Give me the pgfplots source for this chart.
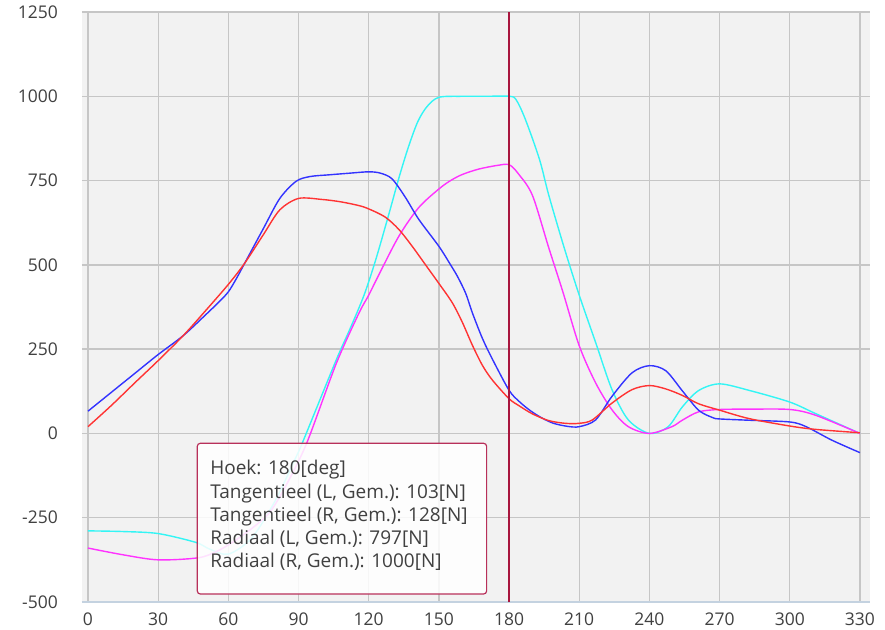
\documentclass[border=0pt]{standalone}
\usepackage{pgfplots}
\pgfplotsset{compat=1.18}
\usepackage{fontspec}
\setmainfont{Open Sans}
\definecolor{bgc}{HTML}{F2F2F2}
\definecolor{gridc}{HTML}{C6C6C6}
\definecolor{basec}{HTML}{C4D2E0}
\definecolor{markc}{HTML}{A8163E}
\definecolor{tipc}{HTML}{B8305A}
\definecolor{lred}{HTML}{FF3333}
\definecolor{lblue}{HTML}{3333FF}
\definecolor{lcyan}{HTML}{33F5F5}
\definecolor{lmag}{HTML}{FF33FF}
\definecolor{txtc}{HTML}{404040}
\pgfplotstableread{
x y
0 20
10 83
20 150
30 216
40.7 290
50 362
60 442
67 505
75 590
82 663
90 697
100 694
108 687
115.7 676
120 666
127 642
132.9 605
138.6 555
144.3 500
150 445
155.7 388
160 330
164.3 262
168.6 202
172.9 158
180 103
184.3 82
190 58
197 38
204 30
210 30
215.6 40
224 90
232.6 130
240 142
247 132
254 113
261 88
270 69
282.6 44
300 22
311 12
330 2
}\tanL
\pgfplotstableread{
x y
0 66
10 122
20 178
30 234
40.7 290
50 350
56 390
60 420
63.5 460
67 505
75 608
82 697
89 748
95 762
103 767
112 772
120 776
125 772
130 755
135.7 700
141.4 635
150 555
155 500
158 465
161.5 415
164.3 358
168.6 282
172.9 220
180 128
184.3 95
189 68
194 46
199 30
205 21
210 20
217 40
224 110
232.6 180
240 201
247 186
254 127
261 69
267 47
270 43
283 39
300 34
307 20
318 -20
330 -57
}\tanR
\pgfplotstableread{
x y
0 -340
15 -360
30 -375
47 -369
55 -350
62 -322
70 -282
77.7 -234
85 -150
93.6 -27
106 205
115.7 355
120 410
124.3 470
132.9 585
141.4 670
150 725
155 750
160 768
167 784
175 795
180 797
184 770
190 706
197 550
203 420
210 260
217 150
224 70
231 20
240 0
249.6 20
254 39
261 64
270 71
283 72
300 71
311 54
330 0
}\radL
\pgfplotstableread{
x y
0 -289
15 -291
30 -297
46 -323
52 -343
60 -358
70 -310
80 -200
88.4 -78
92 -22
106 216
112 310
118 410
123 515
128.6 650
133 760
137 850
141 925
145 970
150 997
160 1000
170 1000
180 1000
183 990
187 931
193 813
197 706
203.6 550
210 410
217 270
224 130
231 40
240 0
248 20
254 78
261 127
270 147
283 127
300 93
311 59
330 0
}\radR
\begin{document}
\begin{tikzpicture}[x=1pt,y=1pt]
\useasboundingbox (-82,-27) rectangle (803,602);
\begin{axis}[
  at={(0,0)}, anchor=south west,
  scale only axis, width=788pt, height=590pt,
  xmin=-2.56, xmax=334.3, ymin=-500, ymax=1250,
  xtick={0,30,...,330}, ytick={-500,-250,...,1250},
  grid=major, grid style={gridc, line width=1.3pt},
  axis line style={draw=none},
  axis background/.style={fill=bgc},
  tick style={draw=none},
  /pgf/number format/assume math mode=true,
  /pgf/number format/1000 sep={},
  ticklabel style={font=\fontsize{17.5}{20}\selectfont, text=txtc},
  yticklabel style={inner sep=0pt, xshift=-24pt},
  xticklabel style={inner sep=0pt, yshift=-11pt},
  every axis plot/.append style={smooth, tension=0.5, line width=1.4pt, no markers},
]
\draw[basec, line width=1.5pt] (rel axis cs:0,0) -- (rel axis cs:1,0);
\addplot[lcyan] table[x=x,y=y] {\radR};
\addplot[lmag] table[x=x,y=y] {\radL};
\addplot[lblue] table[x=x,y=y] {\tanR};
\addplot[lred] table[x=x,y=y] {\tanL};
\draw[markc, line width=1.2pt] (axis cs:180,-500) -- (axis cs:180,1250);
\draw[tipc, line width=1.2pt, fill=white, fill opacity=0.85, rounded corners=3pt]
  (axis cs:46.73,-29.3) rectangle (axis cs:170.4,-476.3);
\begin{scope}[every node/.style={anchor=base west, inner sep=0pt, text=txtc, font=\fontsize{19}{22}\selectfont}]
\node at (axis cs:52.2,-123.3) {Hoek: 180[deg]};
\node at (axis cs:52.2,-192) {Tangentieel (L, Gem.): 103[N]};
\node at (axis cs:52.2,-261) {Tangentieel (R, Gem.): 128[N]};
\node at (axis cs:52.2,-329.7) {Radiaal (L, Gem.): 797[N]};
\node at (axis cs:52.2,-398.6) {Radiaal (R, Gem.): 1000[N]};
\end{scope}
\end{axis}
\end{tikzpicture}
\end{document}
